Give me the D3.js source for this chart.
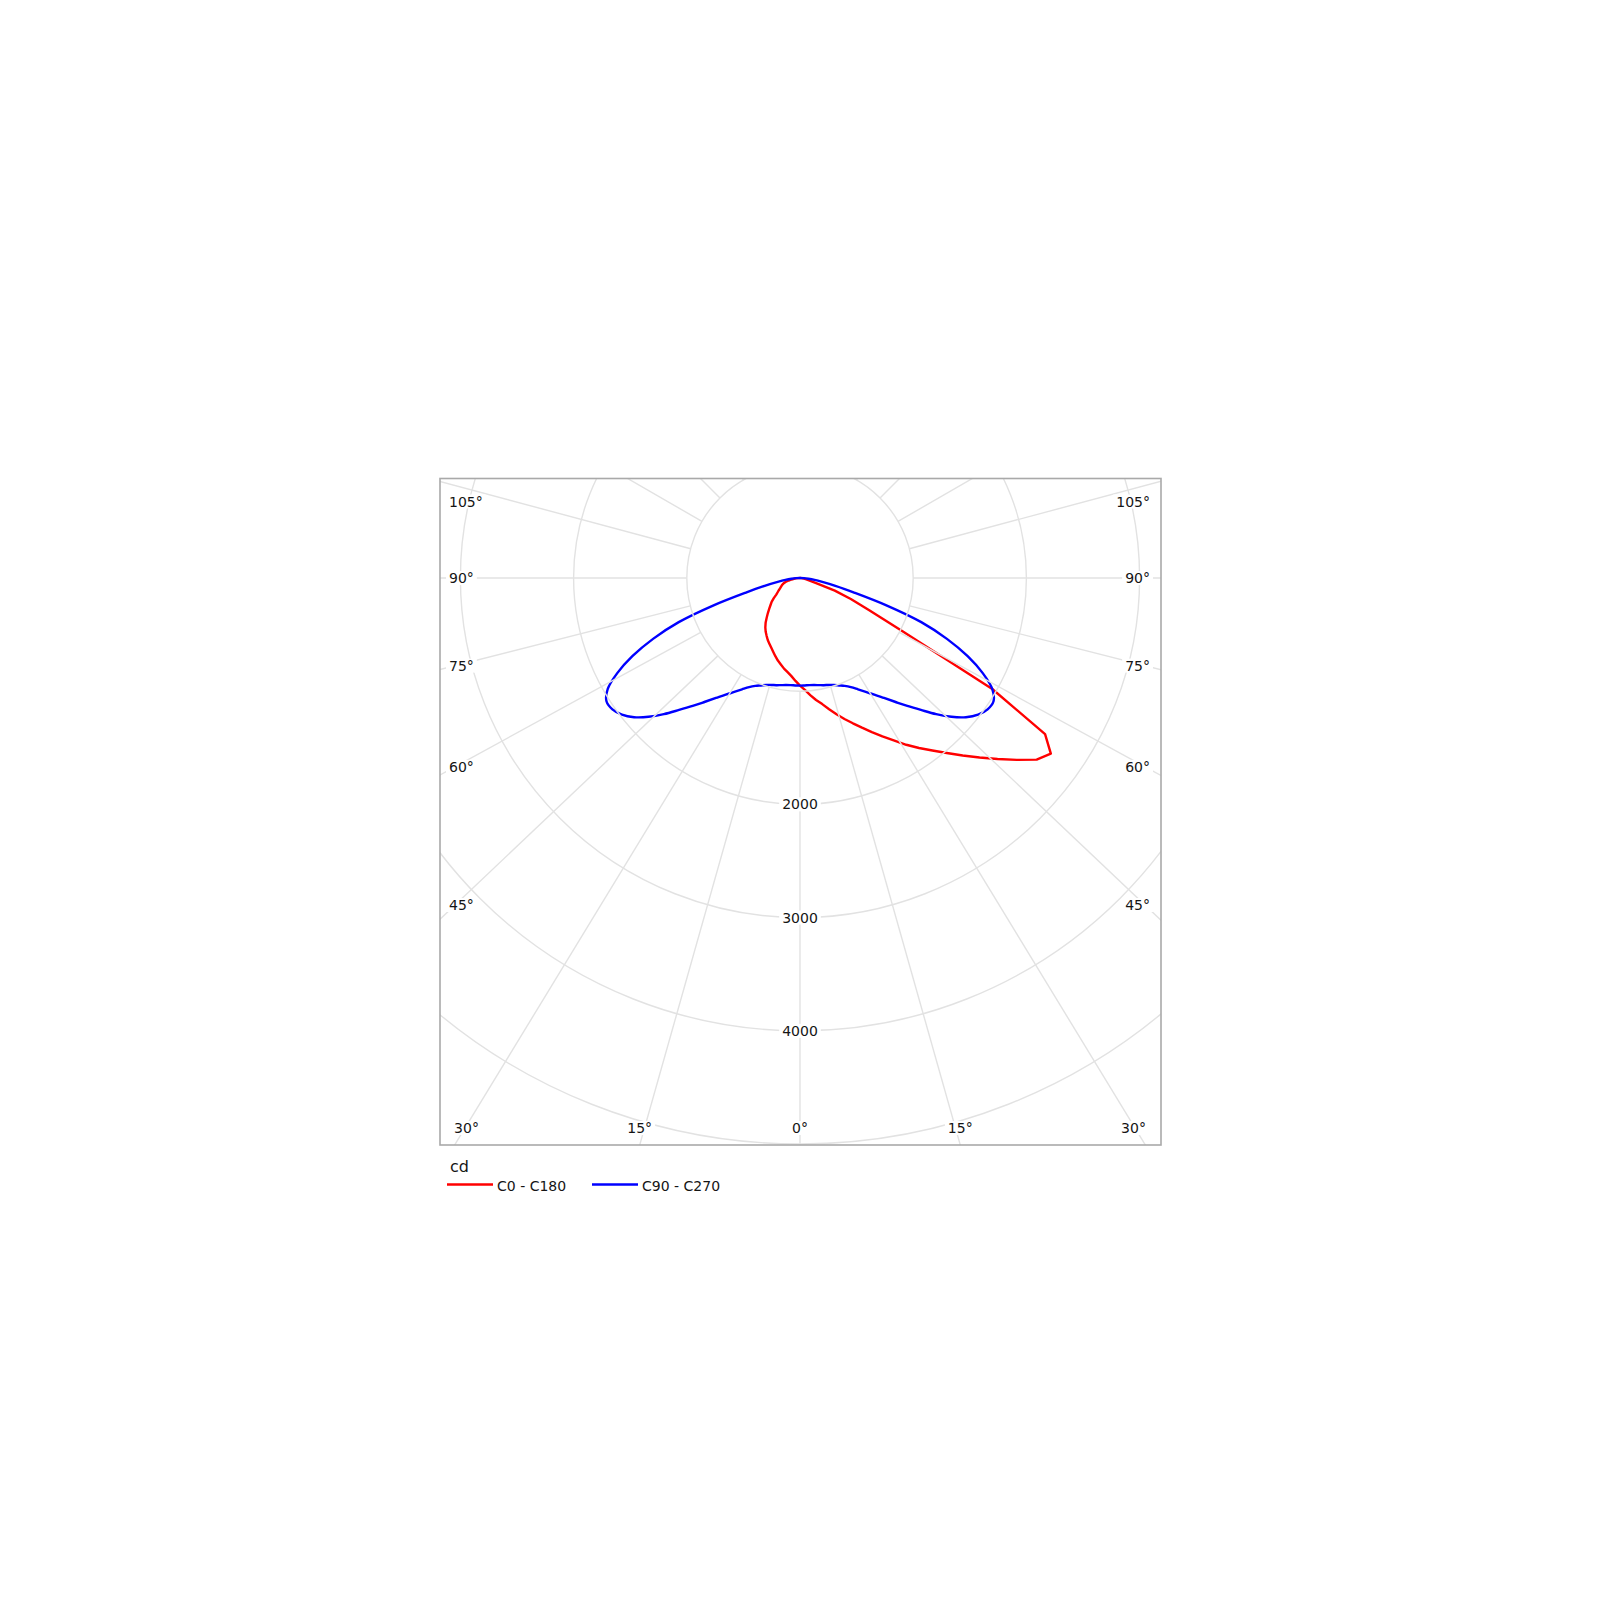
<!DOCTYPE html>
<html><head><meta charset="utf-8">
<script src="https://cdn.jsdelivr.net/npm/d3@7"></script>
<style>body{margin:0;background:#fff}</style>
</head><body>
<svg id="chart" width="1600" height="1600"></svg>
<script>
// ---- data (cd) ----
const gammaAngles = [0,2.5,5,7.5,10,12.5,15,17.5,20,22.5,25,27.5,30,32.5,35,37.5,40,42.5,45,47.5,50,52.5,55,57.5,60,62.5,65,67.5,70,72.5,75,77.5,80,82.5,85,87.5,90];
const c0Values   = [951,989,1038,1087,1131,1188,1246,1306,1366,1431,1502,1577,1656,1747,1833,1921,2018,2127,2243,2367,2500,2635,2705,2567,1961,1025,671,486,327,155,88,57,35,22,13,6,0];
const c180Values = [951,910,870,839,813,782,755,724,693,665,640,617,590,564,534,499,458,420,384,353,327,292,256,234,216,199,186,175,163,150,128,102,75,53,35,18,0];
const c90Values  = [951,950,950,954,961,970,978,991,1010,1032,1064,1109,1162,1222,1294,1378,1475,1581,1701,1815,1913,1983,2023,2027,1961,1820,1634,1405,1140,795,495,320,200,130,75,35,0];
const c270Values = [951,950,950,954,961,970,978,991,1010,1032,1064,1109,1162,1222,1294,1378,1475,1581,1701,1815,1913,1983,2023,2027,1961,1820,1634,1405,1140,795,495,320,200,130,75,35,0];
const ringTicks = [1000,2000,3000,4000,5000,6000];
const ringLabels = [2000,3000,4000];
const gridAngles = [0,15,30,45,60,75,90,105,120,135,150,165,180];
const angleLabels = [0,15,30,45,60,75,90,105];
const seriesNames = ["C0 - C180","C90 - C270"];
const seriesColors = ["#ff0000","#0000ff"];
const unitLabel = "cd";

// ---- layout ----
const cx = 800, cy = 578;
const box = {x0:440, y0:478.5, x1:1161, y1:1145};
const skew = 1.055; // radial grid drawn slightly wider below the horizon, as in the source
const r = d3.scaleLinear().domain([0,5000]).range([0,566]);
const rad = d => d*Math.PI/180;

const svg = d3.select("#chart");
svg.append("rect").attr("width",1600).attr("height",1600).attr("fill","#fff");
svg.append("defs").append("clipPath").attr("id","clip")
  .append("rect").attr("x",box.x0).attr("y",box.y0).attr("width",box.x1-box.x0).attr("height",box.y1-box.y0);

const g = svg.append("g").attr("transform",`translate(${cx},${cy})`);
const grid = svg.append("g").attr("clip-path","url(#clip)").append("g").attr("transform",`translate(${cx},${cy})`);

function gridDir(theta){ // theta in deg from nadir, returns drawn angle (rad)
  if (theta >= 90) return rad(theta);
  return Math.atan(skew*Math.tan(rad(theta)));
}

// rings
grid.selectAll("circle.ring").data(ringTicks).join("circle")
  .attr("r", d=>r(d)).attr("fill","none").attr("stroke","#e2e2e2").attr("stroke-width",1.4);

// radials
const radialData = [];
gridAngles.forEach(a => { radialData.push({a, s:1}); if (a>0 && a<180) radialData.push({a, s:-1}); });
grid.selectAll("line.rad").data(radialData).join("line")
  .attr("x1", d=> d.s*Math.sin(gridDir(d.a))*r(1000))
  .attr("y1", d=> Math.cos(gridDir(d.a))*r(1000))
  .attr("x2", d=> d.s*Math.sin(gridDir(d.a))*r(7000))
  .attr("y2", d=> Math.cos(gridDir(d.a))*r(7000))
  .attr("stroke","#e2e2e2").attr("stroke-width",1.4);

// frame
svg.append("rect").attr("x",box.x0).attr("y",box.y0).attr("width",box.x1-box.x0).attr("height",box.y1-box.y0)
  .attr("fill","none").attr("stroke","#a9a9a9").attr("stroke-width",1.6);

// labels with white background
const labelLayer = svg.append("g");
function addLabel(x, y, text, anchor, size){
  const gg = labelLayer.append("g");
  const bg = gg.append("rect").attr("fill","#fff");
  const t = gg.append("text").attr("x",x).attr("y",y).attr("text-anchor",anchor)
    .attr("dominant-baseline","central").attr("font-family","DejaVu Sans, Verdana, sans-serif")
    .attr("font-size",size).attr("fill","#151515").text(text);
  const bb = t.node().getBBox();
  bg.attr("x",bb.x-3).attr("y",bb.y+1).attr("width",bb.width+6).attr("height",bb.height-2);
  return t;
}

// angle labels
const halfW = (box.x1-box.x0)/2;
angleLabels.forEach(a => {
  const sides = a===0 ? [1] : [-1,1];
  sides.forEach(s => {
    const phi = gridDir(a);
    const sx = Math.sin(phi), cyDir = Math.cos(phi);
    const tSide = sx>1e-9 ? halfW/sx : Infinity;
    const tBottom = cyDir>1e-9 ? (box.y1-cy)/cyDir : Infinity;
    const txt = a + "°";
    if (tBottom < tSide) {
      let x = cx + s*sx*tBottom;
      const w = 27;
      x = Math.max(box.x0+13+w/2, Math.min(box.x1-14-w/2, x));
      addLabel(x, 1128, txt, "middle", 14);
    } else {
      let y = cy + (cyDir/sx)*345;
      y = Math.max(box.y0+23, y);
      if (s<0) addLabel(box.x0+9, y, txt, "start", 14);
      else addLabel(box.x1-11, y, txt, "end", 14);
    }
  });
});

// ring labels
ringLabels.forEach(v => addLabel(cx, cy + r(v), String(v), "middle", 14));

// curves
function buildPoints(leftVals, rightVals){
  const pts = [];
  for (let i = gammaAngles.length-1; i >= 0; i--) pts.push({g:-gammaAngles[i], v:leftVals[i]});
  for (let i = 1; i < gammaAngles.length; i++) pts.push({g:gammaAngles[i], v:rightVals[i]});
  return pts;
}
const radial = d3.lineRadial().angle(d => Math.PI - rad(d.g)).radius(d => r(d.v));

g.append("path").datum(buildPoints(c180Values, c0Values))
  .attr("d", radial.curve(d3.curveLinear))
  .attr("fill","none").attr("stroke",seriesColors[0]).attr("stroke-width",2.4).attr("stroke-linejoin","round");
g.append("path").datum(buildPoints(c270Values, c90Values))
  .attr("d", radial.curve(d3.curveCatmullRom.alpha(0.5)))
  .attr("fill","none").attr("stroke",seriesColors[1]).attr("stroke-width",2.4).attr("stroke-linejoin","round");

// legend
svg.append("text").attr("x",450).attr("y",1166).attr("dominant-baseline","central")
  .attr("font-family","DejaVu Sans, Verdana, sans-serif").attr("font-size",16).attr("fill","#151515").text(unitLabel);
const legX = [447, 592];
seriesNames.forEach((name,i) => {
  svg.append("line").attr("x1",legX[i]).attr("x2",legX[i]+46).attr("y1",1184.5).attr("y2",1184.5)
    .attr("stroke",seriesColors[i]).attr("stroke-width",2.6);
  svg.append("text").attr("x",legX[i]+50).attr("y",1186).attr("dominant-baseline","central")
    .attr("font-family","DejaVu Sans, Verdana, sans-serif").attr("font-size",14).attr("fill","#151515").text(name);
});
</script>
</body></html>
